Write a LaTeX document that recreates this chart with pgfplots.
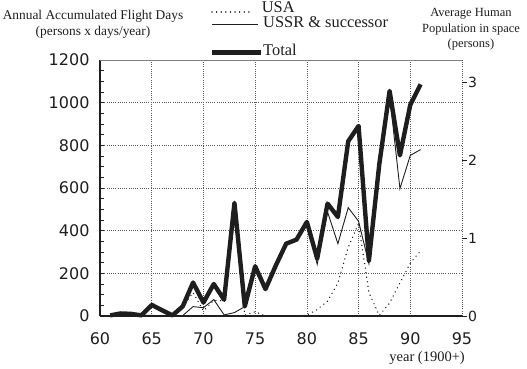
\documentclass[border=0pt]{standalone}
\usepackage{fontspec}
\setmainfont{Liberation Serif}
\newfontfamily\tickfont{DejaVu Sans}
\usepackage{pgfplots}
\pgfplotsset{compat=1.18}
\usepackage{pgfplotstable}

\pgfplotstableread{
year total ussr usa
61 3 3 0
62 12 11 1
63 10 10 1
64 3 3 0
65 52 3 49
66 27 0 27
67 3 3 0
68 45 2 43
69 157 44 110
70 63 39 24
71 150 77 73
72 76 5 71
73 530 16 511
74 45 44 4
75 233 213 20
76 126 126 0
77 237 237 0
78 339 339 0
79 358 358 0
80 441 437 4
81 269 242 30
82 527 488 70
83 464 339 155
84 819 508 322
85 891 444 433
86 260 245 110
87 710 710 3
88 1055 1035 61
89 753 597 155
90 990 753 248
91 1086 780 305
}\flightdata

\definecolor{ink}{HTML}{1E1E1E}
\definecolor{gridc}{HTML}{5A5A5A}

\begin{document}
\begin{tikzpicture}
\useasboundingbox (-100pt,-53pt) rectangle (427pt,316pt);
\begin{axis}[
  at={(0pt,0pt)}, anchor=south west,
  scale only axis, width=362pt, height=256pt,
  xmin=60, xmax=95, ymin=0, ymax=1200,
  xtick={60,65,...,95}, ytick={0,200,...,1200},
  minor y tick num=3,
  axis x line*=bottom, axis y line*=left,
  axis line style={-, ink, line width=1.1pt},
  grid=major,
  major grid style={gridc, line width=0.6pt, dash pattern=on 0.9pt off 1.3pt},
  tick align=inside,
  major tick length=4pt, minor tick length=4pt,
  ytick style={ink, line width=0.8pt},
  minor y tick style={ink, line width=0.8pt},
  xtick style={draw=none},
  /pgf/number format/assume math mode=true,
  /pgf/number format/1000 sep={},
  ticklabel style={font=\tickfont\fontsize{16}{16}\selectfont, text=ink},
  xticklabel style={yshift=-13pt},
  yticklabel style={xshift=-7pt},
  clip=false,
]
\addplot[ink, line width=1.5pt, dash pattern=on 0.01pt off 4.6pt, line cap=round] table[x=year, y=usa] {\flightdata};
\addplot[ink, line width=0.9pt] table[x=year, y=ussr] {\flightdata};
\addplot[ink, line width=4.4pt, line join=round] table[x=year, y=total] {\flightdata};
\draw[gray, line width=0.8pt] (axis cs:60,1200) -- (axis cs:95,1200);
\end{axis}
\begin{axis}[
  at={(0pt,0pt)}, anchor=south west,
  scale only axis, width=362pt, height=256pt,
  xmin=60, xmax=95, ymin=0, ymax=3.2854,
  axis x line=none, axis y line*=right,
  y axis line style={draw=none},
  ytick={0,1,2,3},
  tick align=outside, major tick length=5pt,
  ytick style={ink, line width=0.8pt},
  /pgf/number format/assume math mode=true,
  yticklabel style={font=\tickfont\fontsize{14}{14}\selectfont, text=ink, inner sep=1pt},
]
\addplot[draw=none] coordinates {(60,0)};
\end{axis}
% titles
\node[font=\fontsize{13.4}{14}\selectfont, text=ink] at (-7pt,300pt) {Annual Accumulated Flight Days};
\node[font=\fontsize{13.4}{14}\selectfont, text=ink] at (-7pt,284pt) {(persons x days/year)};
\node[font=\fontsize{12.5}{13}\selectfont, text=ink] at (371pt,302pt) {Average Human};
\node[font=\fontsize{12.5}{13}\selectfont, text=ink] at (371pt,287pt) {Population in space};
\node[font=\fontsize{12.5}{13}\selectfont, text=ink] at (371pt,272pt) {(persons)};
\node[font=\fontsize{14.5}{15}\selectfont, text=ink, anchor=east, inner sep=0pt] at (365pt,-42pt) {year (1900+)};
% legend
\draw[ink, line width=1.5pt, dash pattern=on 0.01pt off 4.6pt, line cap=round] (112pt,304pt) -- (152pt,304pt);
\draw[ink, line width=0.9pt] (112pt,292pt) -- (158pt,292pt);
\draw[ink, line width=4.4pt] (112pt,263.5pt) -- (161pt,263.5pt);
\node[font=\fontsize{16.4}{17}\selectfont, text=ink, anchor=base west, inner sep=0pt] at (161.7pt,303.5pt) {USA};
\node[font=\fontsize{16.4}{17}\selectfont, text=ink, anchor=base west, inner sep=0pt] at (163pt,288.5pt) {USSR \& successor};
\node[font=\fontsize{16.4}{17}\selectfont, text=ink, anchor=base west, inner sep=0pt] at (163pt,260pt) {Total};
\end{tikzpicture}
\end{document}
